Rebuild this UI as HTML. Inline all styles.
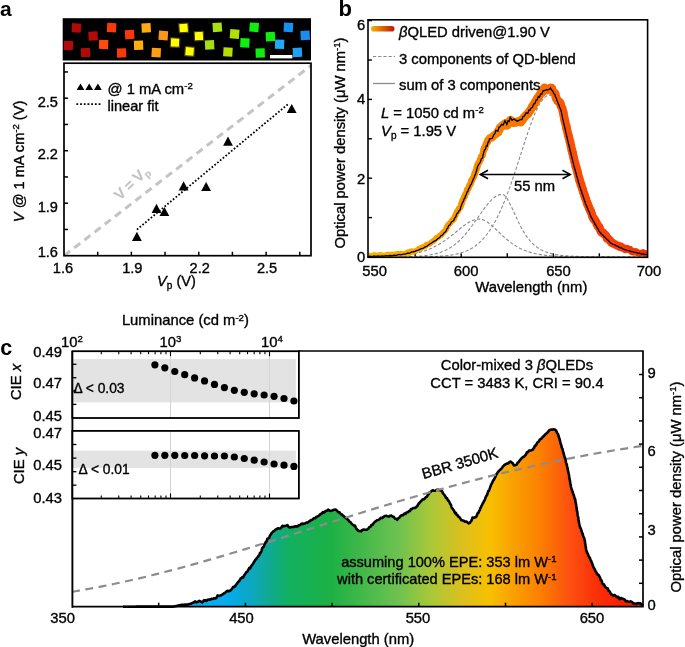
<!DOCTYPE html>
<html><head><meta charset="utf-8"><style>
html,body{margin:0;padding:0;background:#fff;}
svg{display:block;font-family:"Liberation Sans", sans-serif;will-change:transform;}
text{stroke:#000;stroke-width:0.35px;}
</style></head><body>
<svg width="685" height="647" viewBox="0 0 685 647" font-family='"Liberation Sans", sans-serif'>
<rect width="685" height="647" fill="#fff"/>
<text x="0" y="16.4" font-size="21" font-weight="bold" style="stroke:none">a</text>
<rect x="62.7" y="18.2" width="248.3" height="42.3" fill="#000"/>
<rect x="71.8" y="23.3" width="9.2" height="9.2" fill="#b00a0a" transform="rotate(4 76.40 27.90)"/>
<rect x="88.5" y="31.4" width="9.2" height="9.2" fill="#b40a0a" transform="rotate(-3 93.10 36.00)"/>
<rect x="63.8" y="40.9" width="9.2" height="9.2" fill="#b00a0a" transform="rotate(2 68.40 45.50)"/>
<rect x="80.9" y="48" width="9.2" height="9.2" fill="#b00a0a" transform="rotate(-2 85.50 52.60)"/>
<rect x="107" y="23" width="9.2" height="9.2" fill="#f83a08" transform="rotate(3 111.60 27.60)"/>
<rect x="125" y="30" width="9.2" height="9.2" fill="#f8380a" transform="rotate(-4 129.60 34.60)"/>
<rect x="99" y="39.8" width="9.2" height="9.2" fill="#ff4a10" transform="rotate(2 103.60 44.40)"/>
<rect x="117" y="48.3" width="9.2" height="9.2" fill="#f83a0a" transform="rotate(-2 121.60 52.90)"/>
<rect x="141.6" y="23.3" width="9.2" height="9.2" fill="#ffaa10" transform="rotate(-3 146.20 27.90)"/>
<rect x="158.7" y="30.9" width="9.2" height="9.2" fill="#f89818" transform="rotate(4 163.30 35.50)"/>
<rect x="134" y="40.7" width="9.2" height="9.2" fill="#ffb010" transform="rotate(-2 138.60 45.30)"/>
<rect x="151.6" y="48" width="9.2" height="9.2" fill="#ffa010" transform="rotate(3 156.20 52.60)"/>
<rect x="179" y="23.3" width="9.2" height="9.2" fill="#ffff00" stroke="#4a3c00" stroke-width="1.1" transform="rotate(-4 183.60 27.90)"/>
<rect x="170.4" y="38" width="9.2" height="9.2" fill="#ffff00" stroke="#4a3c00" stroke-width="1.1" transform="rotate(3 175.00 42.60)"/>
<rect x="194.3" y="31.5" width="9.2" height="9.2" fill="#ffff00" stroke="#4a3c00" stroke-width="1.1" transform="rotate(-3 198.90 36.10)"/>
<rect x="185" y="46.8" width="9.2" height="9.2" fill="#ffff00" stroke="#4a3c00" stroke-width="1.1" transform="rotate(4 189.60 51.40)"/>
<rect x="212.7" y="22.7" width="9.2" height="9.2" fill="#a8e010" transform="rotate(-4 217.30 27.30)"/>
<rect x="230" y="29.4" width="9.2" height="9.2" fill="#b0e000" transform="rotate(4 234.60 34.00)"/>
<rect x="205" y="40.2" width="9.2" height="9.2" fill="#a0e010" transform="rotate(-3 209.60 44.80)"/>
<rect x="223.3" y="47.4" width="9.2" height="9.2" fill="#b4e000" transform="rotate(3 227.90 52.00)"/>
<rect x="249.5" y="22.7" width="9.2" height="9.2" fill="#10ee10" transform="rotate(4 254.10 27.30)"/>
<rect x="265.8" y="32" width="9.2" height="9.2" fill="#10ee10" transform="rotate(-3 270.40 36.60)"/>
<rect x="240.3" y="38.2" width="9.2" height="9.2" fill="#10ee10" transform="rotate(3 244.90 42.80)"/>
<rect x="255.6" y="48.4" width="9.2" height="9.2" fill="#10ee10" transform="rotate(-2 260.20 53.00)"/>
<rect x="283.8" y="22.7" width="9.2" height="9.2" fill="#1890f0" transform="rotate(3 288.40 27.30)"/>
<rect x="300.6" y="30.8" width="9.2" height="9.2" fill="#1a8cf0" transform="rotate(-3 305.20 35.40)"/>
<rect x="275" y="39.6" width="9.2" height="9.2" fill="#20aaf8" transform="rotate(2 279.60 44.20)"/>
<rect x="292.8" y="47.8" width="9.2" height="9.2" fill="#1ea0f4" transform="rotate(-3 297.40 52.40)"/>
<rect x="270" y="55" width="22.4" height="3.4" fill="#fff"/>
<line x1="64" y1="255.7" x2="311" y2="65.5" stroke="#c4c4c4" stroke-width="3" stroke-dasharray="7.6 5.27"/>
<g transform="translate(135,186.5) rotate(-44)"><text x="0" y="0" font-size="15" word-spacing="-0.75" fill="#c2c2c2" style="stroke:#c2c2c2;stroke-width:0.15px" text-anchor="middle" font-weight="bold">V = V<tspan font-size="10" dy="3">p</tspan></text></g>
<line x1="136.9" y1="229.6" x2="289.3" y2="103.1" stroke="#000" stroke-width="1.8" stroke-dasharray="1.7 1.9"/>
<path d="M132.00,240.90 L141.80,240.90 L136.90,231.80 Z" fill="#000"/>
<path d="M151.60,212.90 L161.40,212.90 L156.50,203.80 Z" fill="#000"/>
<path d="M159.50,216.10 L169.30,216.10 L164.40,207.00 Z" fill="#000"/>
<path d="M178.70,190.40 L188.50,190.40 L183.60,181.30 Z" fill="#000"/>
<path d="M201.20,191.00 L211.00,191.00 L206.10,181.90 Z" fill="#000"/>
<path d="M223.10,145.70 L232.90,145.70 L228.00,136.60 Z" fill="#000"/>
<path d="M286.80,113.00 L296.60,113.00 L291.70,103.90 Z" fill="#000"/>
<rect x="64" y="63.2" width="247" height="192.5" fill="none" stroke="#000" stroke-width="1.7"/>
<line x1="97.68" y1="255.7" x2="97.68" y2="251.7" stroke="#000" stroke-width="1.5"/>
<line x1="64" y1="229.45" x2="68" y2="229.45" stroke="#000" stroke-width="1.5"/>
<line x1="131.36" y1="255.7" x2="131.36" y2="251.7" stroke="#000" stroke-width="1.5"/>
<line x1="64" y1="203.20" x2="68" y2="203.20" stroke="#000" stroke-width="1.5"/>
<line x1="165.05" y1="255.7" x2="165.05" y2="251.7" stroke="#000" stroke-width="1.5"/>
<line x1="64" y1="176.95" x2="68" y2="176.95" stroke="#000" stroke-width="1.5"/>
<line x1="198.73" y1="255.7" x2="198.73" y2="251.7" stroke="#000" stroke-width="1.5"/>
<line x1="64" y1="150.70" x2="68" y2="150.70" stroke="#000" stroke-width="1.5"/>
<line x1="232.41" y1="255.7" x2="232.41" y2="251.7" stroke="#000" stroke-width="1.5"/>
<line x1="64" y1="124.45" x2="68" y2="124.45" stroke="#000" stroke-width="1.5"/>
<line x1="266.09" y1="255.7" x2="266.09" y2="251.7" stroke="#000" stroke-width="1.5"/>
<line x1="64" y1="98.20" x2="68" y2="98.20" stroke="#000" stroke-width="1.5"/>
<line x1="299.77" y1="255.7" x2="299.77" y2="251.7" stroke="#000" stroke-width="1.5"/>
<line x1="64" y1="71.95" x2="68" y2="71.95" stroke="#000" stroke-width="1.5"/>
<text x="58" y="211.9" font-size="14.6" text-anchor="end" >1.9</text>
<text x="58" y="159.39999999999998" font-size="14.6" text-anchor="end" >2.2</text>
<text x="58" y="106.90000000000002" font-size="14.6" text-anchor="end" >2.5</text>
<text x="58" y="256.9" font-size="14.6" text-anchor="end" >1.6</text>
<text x="63.0" y="272.5" font-size="14.6" text-anchor="middle" >1.6</text>
<text x="132.36363636363632" y="272.5" font-size="14.6" text-anchor="middle" >1.9</text>
<text x="199.72727272727272" y="272.5" font-size="14.6" text-anchor="middle" >2.2</text>
<text x="267.09090909090907" y="272.5" font-size="14.6" text-anchor="middle" >2.5</text>
<text x="176.5" y="286.1" font-size="14.6" text-anchor="middle"><tspan font-style="italic">V</tspan><tspan font-size="10" dy="3">p</tspan><tspan dy="-3"> (V)</tspan></text>
<g transform="translate(24,161.4) rotate(-90)"><text x="0" y="0" font-size="14.6" text-anchor="middle"><tspan font-style="italic">V</tspan> @ 1 mA cm<tspan font-size="9.6" dy="-4.8">-2</tspan><tspan dy="4.8"> (V)</tspan></text></g>
<path d="M76.60,90 L84.40,90 L80.50,83.4 Z" fill="#000"/>
<path d="M85.30,90 L93.10,90 L89.20,83.4 Z" fill="#000"/>
<path d="M94.00,90 L101.80,90 L97.90,83.4 Z" fill="#000"/>
<line x1="76.4" y1="104.2" x2="100.4" y2="104.2" stroke="#000" stroke-width="1.8" stroke-dasharray="1.8 1.9"/>
<text x="107.5" y="93.5" font-size="14.8">@ 1 mA cm<tspan font-size="9.6" dy="-4.8">-2</tspan></text>
<text x="107.5" y="110.6" font-size="14.6" text-anchor="start" >linear fit</text>
<text x="338.5" y="16.4" font-size="22" font-weight="bold" style="stroke:none">b</text>
<line x1="415.15" y1="257.3" x2="415.15" y2="253.3" stroke="#000" stroke-width="1.4"/>
<line x1="461.20" y1="257.3" x2="461.20" y2="253.3" stroke="#000" stroke-width="1.4"/>
<line x1="507.25" y1="257.3" x2="507.25" y2="253.3" stroke="#000" stroke-width="1.4"/>
<line x1="553.30" y1="257.3" x2="553.30" y2="253.3" stroke="#000" stroke-width="1.4"/>
<line x1="599.35" y1="257.3" x2="599.35" y2="253.3" stroke="#000" stroke-width="1.4"/>
<path d="M367.26,256.82 L368.18,256.81 L369.1,256.8 L370.02,256.78 L370.94,256.77 L371.86,256.76 L372.78,256.74 L373.71,256.73 L374.63,256.71 L375.55,256.69 L376.47,256.67 L377.39,256.65 L378.31,256.63 L379.23,256.61 L380.15,256.59 L381.07,256.56 L381.99,256.53 L382.92,256.51 L383.84,256.48 L384.76,256.44 L385.68,256.41 L386.6,256.37 L387.52,256.34 L388.44,256.3 L389.36,256.26 L390.28,256.21 L391.2,256.16 L392.12,256.11 L393.05,256.06 L393.97,256.01 L394.89,255.95 L395.81,255.89 L396.73,255.82 L397.65,255.75 L398.57,255.68 L399.49,255.6 L400.41,255.52 L401.34,255.43 L402.26,255.34 L403.18,255.25 L404.1,255.14 L405.02,255.04 L405.94,254.93 L406.86,254.81 L407.78,254.68 L408.7,254.55 L409.62,254.41 L410.55,254.27 L411.47,254.12 L412.39,253.95 L413.31,253.79 L414.23,253.61 L415.15,253.42 L416.07,253.23 L416.99,253.02 L417.91,252.81 L418.83,252.58 L419.75,252.35 L420.68,252.1 L421.6,251.84 L422.52,251.57 L423.44,251.29 L424.36,251 L425.28,250.69 L426.2,250.37 L427.12,250.04 L428.04,249.69 L428.97,249.32 L429.89,248.95 L430.81,248.55 L431.73,248.15 L432.65,247.72 L433.57,247.28 L434.49,246.83 L435.41,246.36 L436.33,245.87 L437.25,245.37 L438.18,244.84 L439.1,244.31 L440.02,243.75 L440.94,243.18 L441.86,242.6 L442.78,242 L443.7,241.38 L444.62,240.75 L445.54,240.1 L446.46,239.44 L447.38,238.76 L448.31,238.07 L449.23,237.37 L450.15,236.66 L451.07,235.94 L451.99,235.21 L452.91,234.47 L453.83,233.73 L454.75,232.98 L455.67,232.23 L456.6,231.47 L457.52,230.72 L458.44,229.97 L459.36,229.22 L460.28,228.48 L461.2,227.75 L462.12,227.03 L463.04,226.33 L463.96,225.64 L464.88,224.97 L465.81,224.32 L466.73,223.7 L467.65,223.1 L468.57,222.54 L469.49,222 L470.41,221.51 L471.33,221.05 L472.25,220.63 L473.17,220.26 L474.09,219.94 L475.02,219.66 L475.94,219.44 L476.86,219.27 L477.78,219.16 L478.7,219.1 L479.62,219.11 L480.54,219.21 L481.46,219.38 L482.38,219.63 L483.3,219.95 L484.23,220.35 L485.15,220.81 L486.07,221.32 L486.99,221.9 L487.91,222.52 L488.83,223.19 L489.75,223.9 L490.67,224.65 L491.59,225.43 L492.51,226.23 L493.44,227.06 L494.36,227.9 L495.28,228.76 L496.2,229.63 L497.12,230.51 L498.04,231.39 L498.96,232.27 L499.88,233.14 L500.8,234.01 L501.72,234.88 L502.65,235.73 L503.57,236.57 L504.49,237.4 L505.41,238.21 L506.33,239 L507.25,239.77 L508.17,240.53 L509.09,241.26 L510.01,241.98 L510.93,242.67 L511.86,243.34 L512.78,243.99 L513.7,244.62 L514.62,245.22 L515.54,245.8 L516.46,246.36 L517.38,246.9 L518.3,247.42 L519.22,247.91 L520.14,248.39 L521.07,248.84 L521.99,249.28 L522.91,249.69 L523.83,250.09 L524.75,250.46 L525.67,250.82 L526.59,251.16 L527.51,251.49 L528.43,251.8 L529.35,252.09 L530.28,252.37 L531.2,252.63 L532.12,252.88 L533.04,253.12 L533.96,253.35 L534.88,253.56 L535.8,253.76 L536.72,253.95 L537.64,254.13 L538.56,254.3 L539.49,254.46 L540.41,254.61 L541.33,254.75 L542.25,254.89 L543.17,255.02 L544.09,255.13 L545.01,255.25 L545.93,255.35 L546.85,255.45 L547.77,255.55 L548.7,255.64 L549.62,255.72 L550.54,255.8 L551.46,255.87 L552.38,255.94 L553.3,256.01 L554.22,256.07 L555.14,256.13 L556.06,256.18 L556.98,256.23 L557.9,256.28 L558.83,256.32 L559.75,256.36 L560.67,256.4 L561.59,256.44 L562.51,256.48 L563.43,256.51 L564.35,256.54 L565.27,256.57 L566.19,256.59 L567.12,256.62 L568.04,256.64 L568.96,256.67 L569.88,256.69 L570.8,256.71 L571.72,256.72 L572.64,256.74 L573.56,256.76 L574.48,256.77 L575.4,256.79 L576.33,256.8 L577.25,256.81 L578.17,256.82 L579.09,256.83 L580.01,256.84 L580.93,256.85 L581.85,256.86 L582.77,256.87 L583.69,256.88 L584.61,256.89 L585.54,256.89 L586.46,256.9 L587.38,256.91 L588.3,256.91 L589.22,256.92 L590.14,256.92 L591.06,256.93 L591.98,256.93 L592.9,256.94 L593.82,256.94 L594.75,256.94 L595.67,256.95 L596.59,256.95 L597.51,256.95 L598.43,256.96 L599.35,256.96 L600.27,256.96 L601.19,256.96 L602.11,256.97 L603.03,256.97 L603.96,256.97 L604.88,256.97 L605.8,256.97 L606.72,256.97 L607.64,256.98 L608.56,256.98 L609.48,256.98 L610.4,256.98 L611.32,256.98 L612.24,256.98 L613.16,256.98 L614.09,256.98 L615.01,256.99 L615.93,256.99 L616.85,256.99 L617.77,256.99 L618.69,256.99 L619.61,256.99 L620.53,256.99 L621.45,256.99 L622.38,256.99 L623.3,256.99 L624.22,256.99 L625.14,256.99 L626.06,256.99 L626.98,256.99 L627.9,256.99 L628.82,256.99 L629.74,256.99 L630.66,256.99 L631.59,256.99 L632.51,257 L633.43,257 L634.35,257 L635.27,257 L636.19,257 L637.11,257 L638.03,257 L638.95,257 L639.87,257 L640.8,257 L641.72,257 L642.64,257 L643.56,257 L644.48,257 L645.4,257 L646.32,257 L647.24,257" fill="none" stroke="#8a8a8a" stroke-width="1.1" stroke-dasharray="3.2 2"/>
<path d="M367.26,257 L368.18,257 L369.1,257 L370.02,256.99 L370.94,256.99 L371.86,256.99 L372.78,256.99 L373.71,256.99 L374.63,256.99 L375.55,256.99 L376.47,256.99 L377.39,256.99 L378.31,256.99 L379.23,256.98 L380.15,256.98 L381.07,256.98 L381.99,256.98 L382.92,256.98 L383.84,256.98 L384.76,256.97 L385.68,256.97 L386.6,256.97 L387.52,256.96 L388.44,256.96 L389.36,256.96 L390.28,256.95 L391.2,256.95 L392.12,256.94 L393.05,256.94 L393.97,256.93 L394.89,256.92 L395.81,256.91 L396.73,256.91 L397.65,256.9 L398.57,256.89 L399.49,256.88 L400.41,256.86 L401.34,256.85 L402.26,256.84 L403.18,256.82 L404.1,256.8 L405.02,256.79 L405.94,256.77 L406.86,256.74 L407.78,256.72 L408.7,256.7 L409.62,256.67 L410.55,256.64 L411.47,256.6 L412.39,256.57 L413.31,256.53 L414.23,256.49 L415.15,256.44 L416.07,256.39 L416.99,256.34 L417.91,256.28 L418.83,256.22 L419.75,256.15 L420.68,256.08 L421.6,256 L422.52,255.92 L423.44,255.83 L424.36,255.73 L425.28,255.63 L426.2,255.52 L427.12,255.39 L428.04,255.26 L428.97,255.13 L429.89,254.98 L430.81,254.82 L431.73,254.65 L432.65,254.47 L433.57,254.27 L434.49,254.06 L435.41,253.84 L436.33,253.6 L437.25,253.35 L438.18,253.09 L439.1,252.8 L440.02,252.5 L440.94,252.18 L441.86,251.84 L442.78,251.48 L443.7,251.1 L444.62,250.69 L445.54,250.27 L446.46,249.82 L447.38,249.34 L448.31,248.85 L449.23,248.32 L450.15,247.77 L451.07,247.19 L451.99,246.58 L452.91,245.94 L453.83,245.28 L454.75,244.58 L455.67,243.86 L456.6,243.1 L457.52,242.31 L458.44,241.49 L459.36,240.63 L460.28,239.75 L461.2,238.83 L462.12,237.88 L463.04,236.9 L463.96,235.89 L464.88,234.84 L465.81,233.77 L466.73,232.67 L467.65,231.54 L468.57,230.38 L469.49,229.2 L470.41,227.99 L471.33,226.77 L472.25,225.52 L473.17,224.25 L474.09,222.97 L475.02,221.67 L475.94,220.36 L476.86,219.04 L477.78,217.72 L478.7,216.4 L479.62,215.08 L480.54,213.77 L481.46,212.46 L482.38,211.17 L483.3,209.89 L484.23,208.63 L485.15,207.4 L486.07,206.2 L486.99,205.04 L487.91,203.91 L488.83,202.82 L489.75,201.78 L490.67,200.79 L491.59,199.86 L492.51,198.99 L493.44,198.18 L494.36,197.44 L495.28,196.77 L496.2,196.18 L497.12,195.66 L498.04,195.23 L498.96,194.88 L499.88,194.62 L500.8,194.44 L501.72,194.36 L502.65,194.41 L503.57,194.77 L504.49,195.42 L505.41,196.34 L506.33,197.5 L507.25,198.86 L508.17,200.39 L509.09,202.08 L510.01,203.88 L510.93,205.77 L511.86,207.73 L512.78,209.73 L513.7,211.76 L514.62,213.8 L515.54,215.83 L516.46,217.83 L517.38,219.81 L518.3,221.74 L519.22,223.62 L520.14,225.45 L521.07,227.21 L521.99,228.9 L522.91,230.53 L523.83,232.09 L524.75,233.58 L525.67,235 L526.59,236.35 L527.51,237.62 L528.43,238.83 L529.35,239.98 L530.28,241.06 L531.2,242.08 L532.12,243.03 L533.04,243.94 L533.96,244.78 L534.88,245.58 L535.8,246.32 L536.72,247.02 L537.64,247.68 L538.56,248.29 L539.49,248.86 L540.41,249.4 L541.33,249.9 L542.25,250.36 L543.17,250.8 L544.09,251.21 L545.01,251.59 L545.93,251.94 L546.85,252.27 L547.77,252.58 L548.7,252.87 L549.62,253.14 L550.54,253.39 L551.46,253.62 L552.38,253.84 L553.3,254.05 L554.22,254.24 L555.14,254.41 L556.06,254.58 L556.98,254.73 L557.9,254.87 L558.83,255.01 L559.75,255.13 L560.67,255.25 L561.59,255.36 L562.51,255.46 L563.43,255.56 L564.35,255.64 L565.27,255.73 L566.19,255.8 L567.12,255.88 L568.04,255.94 L568.96,256.01 L569.88,256.07 L570.8,256.12 L571.72,256.17 L572.64,256.22 L573.56,256.27 L574.48,256.31 L575.4,256.35 L576.33,256.39 L577.25,256.42 L578.17,256.45 L579.09,256.49 L580.01,256.51 L580.93,256.54 L581.85,256.57 L582.77,256.59 L583.69,256.61 L584.61,256.63 L585.54,256.65 L586.46,256.67 L587.38,256.69 L588.3,256.71 L589.22,256.72 L590.14,256.74 L591.06,256.75 L591.98,256.76 L592.9,256.78 L593.82,256.79 L594.75,256.8 L595.67,256.81 L596.59,256.82 L597.51,256.83 L598.43,256.84 L599.35,256.84 L600.27,256.85 L601.19,256.86 L602.11,256.87 L603.03,256.87 L603.96,256.88 L604.88,256.88 L605.8,256.89 L606.72,256.89 L607.64,256.9 L608.56,256.9 L609.48,256.91 L610.4,256.91 L611.32,256.92 L612.24,256.92 L613.16,256.92 L614.09,256.93 L615.01,256.93 L615.93,256.93 L616.85,256.94 L617.77,256.94 L618.69,256.94 L619.61,256.94 L620.53,256.95 L621.45,256.95 L622.38,256.95 L623.3,256.95 L624.22,256.96 L625.14,256.96 L626.06,256.96 L626.98,256.96 L627.9,256.96 L628.82,256.96 L629.74,256.97 L630.66,256.97 L631.59,256.97 L632.51,256.97 L633.43,256.97 L634.35,256.97 L635.27,256.97 L636.19,256.97 L637.11,256.97 L638.03,256.98 L638.95,256.98 L639.87,256.98 L640.8,256.98 L641.72,256.98 L642.64,256.98 L643.56,256.98 L644.48,256.98 L645.4,256.98 L646.32,256.98 L647.24,256.98" fill="none" stroke="#8a8a8a" stroke-width="1.1" stroke-dasharray="3.2 2"/>
<path d="M367.26,257 L368.18,257 L369.1,257 L370.02,257 L370.94,257 L371.86,257 L372.78,257 L373.71,257 L374.63,257 L375.55,257 L376.47,257 L377.39,257 L378.31,257 L379.23,257 L380.15,257 L381.07,257 L381.99,257 L382.92,257 L383.84,257 L384.76,257 L385.68,257 L386.6,257 L387.52,256.99 L388.44,256.99 L389.36,256.99 L390.28,256.99 L391.2,256.99 L392.12,256.99 L393.05,256.99 L393.97,256.99 L394.89,256.99 L395.81,256.99 L396.73,256.99 L397.65,256.99 L398.57,256.98 L399.49,256.98 L400.41,256.98 L401.34,256.98 L402.26,256.98 L403.18,256.97 L404.1,256.97 L405.02,256.97 L405.94,256.97 L406.86,256.96 L407.78,256.96 L408.7,256.96 L409.62,256.95 L410.55,256.95 L411.47,256.94 L412.39,256.94 L413.31,256.93 L414.23,256.93 L415.15,256.92 L416.07,256.91 L416.99,256.9 L417.91,256.9 L418.83,256.89 L419.75,256.88 L420.68,256.86 L421.6,256.85 L422.52,256.84 L423.44,256.82 L424.36,256.81 L425.28,256.79 L426.2,256.77 L427.12,256.75 L428.04,256.73 L428.97,256.71 L429.89,256.68 L430.81,256.66 L431.73,256.63 L432.65,256.6 L433.57,256.56 L434.49,256.53 L435.41,256.49 L436.33,256.44 L437.25,256.4 L438.18,256.35 L439.1,256.29 L440.02,256.24 L440.94,256.17 L441.86,256.11 L442.78,256.04 L443.7,255.96 L444.62,255.88 L445.54,255.79 L446.46,255.69 L447.38,255.59 L448.31,255.48 L449.23,255.36 L450.15,255.24 L451.07,255.1 L451.99,254.96 L452.91,254.81 L453.83,254.64 L454.75,254.47 L455.67,254.28 L456.6,254.08 L457.52,253.87 L458.44,253.64 L459.36,253.4 L460.28,253.14 L461.2,252.87 L462.12,252.58 L463.04,252.27 L463.96,251.94 L464.88,251.6 L465.81,251.23 L466.73,250.84 L467.65,250.42 L468.57,249.99 L469.49,249.52 L470.41,249.03 L471.33,248.52 L472.25,247.97 L473.17,247.39 L474.09,246.79 L475.02,246.15 L475.94,245.47 L476.86,244.76 L477.78,244.02 L478.7,243.23 L479.62,242.41 L480.54,241.55 L481.46,240.64 L482.38,239.69 L483.3,238.7 L484.23,237.66 L485.15,236.57 L486.07,235.44 L486.99,234.26 L487.91,233.02 L488.83,231.73 L489.75,230.4 L490.67,229 L491.59,227.55 L492.51,226.05 L493.44,224.49 L494.36,222.87 L495.28,221.2 L496.2,219.46 L497.12,217.67 L498.04,215.82 L498.96,213.91 L499.88,211.94 L500.8,209.91 L501.72,207.83 L502.65,205.69 L503.57,203.48 L504.49,201.23 L505.41,198.92 L506.33,196.55 L507.25,194.13 L508.17,191.66 L509.09,189.14 L510.01,186.58 L510.93,183.97 L511.86,181.32 L512.78,178.63 L513.7,175.91 L514.62,173.15 L515.54,170.37 L516.46,167.56 L517.38,164.73 L518.3,161.88 L519.22,159.02 L520.14,156.15 L521.07,153.28 L521.99,150.42 L522.91,147.56 L523.83,144.72 L524.75,141.89 L525.67,139.09 L526.59,136.32 L527.51,133.59 L528.43,130.9 L529.35,128.26 L530.28,125.68 L531.2,123.16 L532.12,120.71 L533.04,118.33 L533.96,116.03 L534.88,113.83 L535.8,111.72 L536.72,109.71 L537.64,107.8 L538.56,106.01 L539.49,104.33 L540.41,102.78 L541.33,101.36 L542.25,100.07 L543.17,98.92 L544.09,97.92 L545.01,97.06 L545.93,96.35 L546.85,95.79 L547.77,95.39 L548.7,95.15 L549.62,95.07 L550.54,95.23 L551.46,95.72 L552.38,96.52 L553.3,97.61 L554.22,98.98 L555.14,100.62 L556.06,102.5 L556.98,104.6 L557.9,106.92 L558.83,109.43 L559.75,112.12 L560.67,114.95 L561.59,117.93 L562.51,121.03 L563.43,124.24 L564.35,127.53 L565.27,130.89 L566.19,134.31 L567.12,137.78 L568.04,141.27 L568.96,144.78 L569.88,148.3 L570.8,151.81 L571.72,155.31 L572.64,158.78 L573.56,162.22 L574.48,165.62 L575.4,168.97 L576.33,172.27 L577.25,175.5 L578.17,178.68 L579.09,181.78 L580.01,184.82 L580.93,187.77 L581.85,190.65 L582.77,193.45 L583.69,196.17 L584.61,198.81 L585.54,201.37 L586.46,203.84 L587.38,206.23 L588.3,208.53 L589.22,210.76 L590.14,212.9 L591.06,214.96 L591.98,216.95 L592.9,218.85 L593.82,220.68 L594.75,222.44 L595.67,224.12 L596.59,225.73 L597.51,227.28 L598.43,228.75 L599.35,230.17 L600.27,231.52 L601.19,232.8 L602.11,234.03 L603.03,235.21 L603.96,236.32 L604.88,237.39 L605.8,238.4 L606.72,239.37 L607.64,240.29 L608.56,241.16 L609.48,242 L610.4,242.79 L611.32,243.54 L612.24,244.25 L613.16,244.93 L614.09,245.57 L615.01,246.18 L615.93,246.76 L616.85,247.31 L617.77,247.83 L618.69,248.32 L619.61,248.79 L620.53,249.24 L621.45,249.66 L622.38,250.05 L623.3,250.43 L624.22,250.79 L625.14,251.12 L626.06,251.44 L626.98,251.75 L627.9,252.03 L628.82,252.3 L629.74,252.56 L630.66,252.8 L631.59,253.03 L632.51,253.25 L633.43,253.45 L634.35,253.64 L635.27,253.83 L636.19,254 L637.11,254.16 L638.03,254.32 L638.95,254.47 L639.87,254.6 L640.8,254.73 L641.72,254.86 L642.64,254.97 L643.56,255.08 L644.48,255.19 L645.4,255.29 L646.32,255.38 L647.24,255.47" fill="none" stroke="#8a8a8a" stroke-width="1.1" stroke-dasharray="3.2 2"/>
<defs><linearGradient id="gb" gradientUnits="userSpaceOnUse" x1="368" y1="0" x2="647" y2="0"><stop offset="0" stop-color="#f8b400"/><stop offset="0.3" stop-color="#f89a00"/><stop offset="0.45" stop-color="#f88000"/><stop offset="0.62" stop-color="#f86c00"/><stop offset="0.72" stop-color="#f85008"/><stop offset="0.85" stop-color="#f84008"/><stop offset="1" stop-color="#f03008"/></linearGradient><linearGradient id="gl" x1="0" y1="0" x2="1" y2="0"><stop offset="0" stop-color="#f7b500"/><stop offset="1" stop-color="#c01408"/></linearGradient></defs>
<clipPath id="cb"><rect x="368.8" y="19.8" width="278.2" height="236.9"/></clipPath>
<g clip-path="url(#cb)" fill="none" stroke="url(#gb)" stroke-linejoin="round" stroke-linecap="round"><path d="M368,255.21 L369.5,255.64 L371,256.19 L372.5,255.79 L374,254.93 L375.5,255.48" stroke-width="5.60"/><path d="M375.5,255.48 L377,256.19 L378.5,254.98 L380,254.84 L381.67,254.99 L383.33,255.67" stroke-width="5.60"/><path d="M383.33,255.67 L385,255.87 L386.67,254.58 L388.33,254.53 L390,254.65 L392.2,254.54" stroke-width="5.60"/><path d="M392.2,254.54 L394.4,254.64 L396.6,253.79 L398.8,253.89 L400.95,253.39 L403.1,254.56" stroke-width="5.60"/><path d="M403.1,254.56 L405.3,253.71 L407.5,252.18 L408.97,253.3 L410.43,251.32 L411.9,251.39" stroke-width="5.60"/><path d="M411.9,251.39 L413.37,252 L414.83,251.2 L416.3,250.62 L417.77,249.52 L419.23,248.52" stroke-width="5.60"/><path d="M419.23,248.52 L420.7,248.75 L422.13,247.19 L423.57,246.77 L425,246.5 L426.47,244.76" stroke-width="5.60"/><path d="M426.47,244.76 L427.93,244.32 L429.4,243.93 L430.87,242.76 L432.33,241.41 L433.8,240.65" stroke-width="5.60"/><path d="M433.8,240.65 L435.27,239.25 L436.73,237.57 L438.2,237.31 L439.36,235.81 L440.52,235.31" stroke-width="5.77"/><path d="M440.52,235.31 L441.68,234.53 L442.84,232.6 L444,231.78 L445.9,229.77 L446.8,227.47" stroke-width="5.91"/><path d="M446.8,227.47 L447.7,225.41 L448.6,224.58 L450,223.2 L451.4,221.34 L452.55,220.04" stroke-width="6.05"/><path d="M452.55,220.04 L453.7,219.15 L454.65,216.97 L455.6,215.04 L456.37,213.29 L457.13,211.63" stroke-width="6.18"/><path d="M457.13,211.63 L457.9,210.79 L459.05,208.42 L460.2,207.58 L460.75,206.18 L461.3,203.99" stroke-width="6.28"/><path d="M461.3,203.99 L462,202.3 L462.7,200.07 L463.4,198.84 L464.02,197.46 L464.63,196.32" stroke-width="6.36"/><path d="M464.63,196.32 L465.25,194.49 L465.87,193.53 L466.48,192.55 L467.1,189.76 L467.8,189.18" stroke-width="6.44"/><path d="M467.8,189.18 L468.5,187.98 L469.2,185.86 L469.9,184.62 L470.6,184.07 L471.3,180.96" stroke-width="6.51"/><path d="M471.3,180.96 L472,180.44 L472.62,178.29 L473.23,177.95 L473.85,176.78 L474.47,174.56" stroke-width="6.59"/><path d="M474.47,174.56 L475.08,172.35 L475.7,171.75 L476.16,170.02 L476.62,168.67 L477.08,166.64" stroke-width="6.66"/><path d="M477.08,166.64 L477.54,165.2 L478,163.87 L479.4,161.9 L480.03,160.03 L480.67,159.32" stroke-width="6.73"/><path d="M480.67,159.32 L481.3,156.31 L482.7,155.25 L483.05,152.77 L483.4,151.48 L484.07,148.75" stroke-width="6.66"/><path d="M484.07,148.75 L484.73,148.74 L485.4,146.04 L486.05,144.13 L486.7,143.14 L487.35,141.99" stroke-width="7.01"/><path d="M487.35,141.99 L488,139.92 L488.75,139.33 L489.5,138.01 L490.8,138.26 L492.1,137.38" stroke-width="7.42"/><path d="M492.1,137.38 L493.05,136.2 L494,135.1 L494.9,134.83 L495.8,133.99 L498,132.25" stroke-width="8.00"/><path d="M498,132.25 L498.67,130.29 L499.33,129.94 L500,127.81 L501.6,126.43 L503.2,125.23" stroke-width="8.60"/><path d="M503.2,125.23 L504.1,124.95 L505,123.56 L505.9,124.54 L506.8,125.54 L507.68,124.39" stroke-width="8.60"/><path d="M507.68,124.39 L508.55,122.46 L509.43,122.46 L510.3,120.04 L512.05,121.45 L513.8,122.67" stroke-width="8.60"/><path d="M513.8,122.67 L515.55,122.47 L517.3,121.64 L519.05,121.53 L520.8,122.19 L521.67,120.1" stroke-width="8.60"/><path d="M521.67,120.1 L522.55,120.05 L523.42,117.86 L524.3,117.43 L526.05,115.08 L527.8,113.98" stroke-width="8.60"/><path d="M527.8,113.98 L528.97,112.06 L530.13,110.64 L531.3,108.46 L532.17,106.63 L533.05,106.42" stroke-width="8.60"/><path d="M533.05,106.42 L533.92,104.12 L534.8,102.55 L535.67,101.13 L536.55,99.92 L537.42,98.3" stroke-width="8.60"/><path d="M537.42,98.3 L538.3,97.14 L539.47,95.44 L540.63,93.32 L541.8,92.87 L543.1,90.99" stroke-width="8.60"/><path d="M543.1,90.99 L544.4,87.8 L547,90.09 L548.75,89.13 L550.5,87.81 L551.6,88.2" stroke-width="8.60"/><path d="M551.6,88.2 L552.7,91 L553.8,92.39 L554.9,93.03 L555.44,94.42 L555.98,97.51" stroke-width="8.60"/><path d="M555.98,97.51 L556.52,99.08 L557.06,99.75 L557.6,100.88 L559.88,102.42 L560.47,104.05" stroke-width="8.60"/><path d="M560.47,104.05 L561.05,106.5 L561.63,107.19 L562.22,108.31 L562.8,111.13 L563.12,112.48" stroke-width="8.60"/><path d="M563.12,112.48 L563.43,112.9 L563.75,115.75 L564.07,116.8 L564.38,118.66 L564.7,120" stroke-width="8.60"/><path d="M564.7,120 L565.06,121.95 L565.41,123.3 L565.77,124.94 L566.13,125.33 L566.49,127.76" stroke-width="8.60"/><path d="M566.49,127.76 L566.84,129.01 L567.2,130.94 L567.56,131.93 L567.91,134.27 L568.27,135.23" stroke-width="8.60"/><path d="M568.27,135.23 L568.63,136.25 L568.99,137.74 L569.34,139.11 L569.7,141.29 L570.08,142.06" stroke-width="8.60"/><path d="M570.08,142.06 L570.46,144.34 L570.84,145.31 L571.21,147.48 L571.59,149.05 L571.97,150.67" stroke-width="8.60"/><path d="M571.97,150.67 L572.35,152.8 L572.73,152.81 L573.11,155.86 L573.49,156.74 L573.86,158.46" stroke-width="8.60"/><path d="M573.86,158.46 L574.24,160.2 L574.62,162.06 L575,162.77 L575.41,164.35 L575.82,166.81" stroke-width="8.60"/><path d="M575.82,166.81 L576.22,166.71 L576.63,169.22 L577.04,170.71 L577.45,171.11 L577.85,173.64" stroke-width="8.60"/><path d="M577.85,173.64 L578.26,175.27 L578.67,177.21 L579.08,177.62 L579.48,180.28 L579.89,180.93" stroke-width="8.60"/><path d="M579.89,180.93 L580.3,182.37 L580.79,184.62 L581.28,184.56 L581.78,187.29 L582.27,188.63" stroke-width="8.60"/><path d="M582.27,188.63 L582.76,189.61 L583.25,192.05 L583.75,192.66 L584.24,194.35 L584.73,195.95" stroke-width="8.60"/><path d="M584.73,195.95 L585.22,197.89 L585.72,198.38 L586.21,200.28 L586.7,201.76 L587.33,203.52" stroke-width="8.60"/><path d="M587.33,203.52 L587.96,205.53 L588.59,206.09 L589.22,208.57 L589.85,209.33 L590.48,211.03" stroke-width="8.60"/><path d="M590.48,211.03 L591.11,212.13 L591.74,214.07 L592.37,216.43 L593,217.38 L593.79,219" stroke-width="8.60"/><path d="M593.79,219 L594.58,219.54 L595.37,220.89 L596.16,222.23 L596.95,224.12 L597.75,225.58" stroke-width="8.60"/><path d="M597.75,225.58 L598.54,227.22 L599.33,227.25 L600.12,229.86 L600.91,231.52 L601.7,232.28" stroke-width="8.60"/><path d="M601.7,232.28 L602.8,232.47 L603.9,234 L605,234.55 L606.1,235.96 L607.2,238.36" stroke-width="8.60"/><path d="M607.2,238.36 L608.3,238.88 L609.4,240.04 L610.5,241.36 L611.6,242.66 L612.7,243.2" stroke-width="8.60"/><path d="M612.7,243.2 L614.09,243.86 L615.48,244.53 L616.87,245.3 L618.26,245.77 L619.65,246.58" stroke-width="8.23"/><path d="M619.65,246.58 L621.04,246.38 L622.43,247.85 L623.82,248.12 L625.21,249.32 L626.6,248.78" stroke-width="7.81"/><path d="M626.6,248.78 L628.23,249.34 L629.85,249.49 L631.48,251.23 L633.1,251.9 L634.73,251.84" stroke-width="7.36"/><path d="M634.73,251.84 L636.35,251.74 L637.98,252.97 L639.6,253.32 L641.12,253.16 L642.63,252.86" stroke-width="6.88"/><path d="M642.63,252.86 L644.15,253.19 L645.67,253.66 L647.18,253.72 L648.7,254.18" stroke-width="6.80"/></g>
<path d="M368,256.62 L370,256.23 L372,256.57 L374,255.91 L376,256.36 L378,255.83 L380,256.27 L382,255.82 L384,256.17 L386,255.65 L388,255.88 L390,255.53 L392.2,255.73 L394.4,255.04 L396.6,255.29 L398.8,254.46 L400.95,254.78 L403.1,254.1 L405.3,254.12 L407.5,253.23 L409.7,253.14 L411.9,251.94 L414.1,251.76 L416.3,250.68 L418.5,250.09 L420.7,248.93 L422.85,248.49 L425,247.12 L427.2,246.04 L429.4,244.19 L431.6,243.07 L433.8,241.43 L436,240.37 L438.2,238.33 L439.65,237.55 L441.1,235.65 L442.55,235.02 L444,232.92 L445.9,231.38 L446.8,229.07 L447.7,228.16 L448.6,225.64 L450,224.84 L451.4,222.03 L453.7,220.49 L454.65,218.08 L455.6,217.12 L456.75,213.91 L457.9,212.77 L459.05,210.71 L460.2,209.87 L460.75,206.97 L461.3,205.77 L462.35,202.78 L463.4,201.14 L464.14,198.78 L464.88,198.04 L465.62,195.5 L466.36,194.54 L467.1,191.91 L467.92,191.2 L468.73,188.52 L469.55,187.63 L470.37,185.14 L471.18,184.43 L472,182.21 L472.74,180.84 L473.48,178.53 L474.22,177.55 L474.96,175.13 L475.7,173.94 L476.27,171.3 L476.85,169.86 L477.43,166.94 L478,165.58 L479.4,163.5 L480.35,162.03 L481.3,158.77 L482.7,157.67 L483.05,154.67 L483.4,153.76 L484.4,150.2 L485.4,149.23 L486.27,145.92 L487.13,146.13 L488,142.07 L488.75,142.02 L489.5,138.82 L492.1,138.44 L494,134.37 L494.9,133.63 L495.8,130.35 L498,131.05 L499,127.06 L500,126.82 L501.6,124.52 L503.2,124.95 L505,120.64 L506.8,124.53 L507.97,120.77 L509.13,121.46 L510.3,117.37 L512.05,120.36 L513.8,119.08 L517.3,121.15 L520.8,119.41 L521.97,119.58 L523.13,116.33 L524.3,116.06 L526.05,112.9 L527.8,113.47 L528.97,109.96 L530.13,110.12 L531.3,107.57 L532.47,107.5 L533.63,104.03 L534.8,103.62 L535.97,100.33 L537.13,99.93 L538.3,96.44 L539.47,97.31 L540.63,93.94 L541.8,94.09 L543.1,90.69 L544.4,90.5 L547,89.75 L548.75,89.65 L550.5,88.05 L551.6,90.12 L552.7,90.84 L553.8,93.54 L554.9,94.63 L555.58,97.21 L556.25,97.8 L556.92,100.52 L557.6,101.66 L558.3,103.92 L559,105.2 L559.7,107.5 L560.4,108.72 L561.1,110.98 L561.48,112.27 L561.86,114.84 L562.24,115.73 L562.62,118.63 L563,119.65 L563.42,122.15 L563.83,123.2 L564.25,125.74 L564.67,126.88 L565.08,129.21 L565.5,130.5 L565.92,133.19 L566.33,134.17 L566.75,136.59 L567.17,137.56 L567.58,140.34 L568,141.33 L568.44,143.7 L568.88,144.93 L569.33,147.37 L569.77,148.47 L570.21,151.22 L570.65,151.91 L571.09,154.8 L571.53,155.88 L571.97,158.07 L572.42,159.21 L572.86,162.05 L573.3,162.92 L573.78,165.49 L574.26,166.65 L574.75,168.94 L575.23,169.79 L575.71,172.64 L576.19,173.34 L576.67,176.23 L577.15,177.12 L577.64,179.4 L578.12,180.69 L578.6,183.1 L579.18,184.01 L579.76,186.82 L580.35,187.54 L580.93,190.24 L581.51,191.06 L582.09,193.71 L582.67,194.7 L583.25,197.08 L583.84,198.15 L584.42,200.7 L585,201.63 L585.7,204.34 L586.4,205.27 L587.1,207.5 L587.8,208.67 L588.5,211.09 L589.2,211.86 L589.9,214.25 L590.6,215.5 L591.3,217.8 L592.27,218.65 L593.23,221.1 L594.2,222.16 L595.17,224.54 L596.13,225.6 L597.1,227.77 L598.07,228.77 L599.03,231.4 L600,232.24 L601.38,234.17 L602.75,234.98 L604.12,236.71 L605.5,237.73 L606.88,239.59 L608.25,240.32 L609.62,242.13 L611,243.19 L612.74,244.34 L614.48,244.65 L616.21,245.95 L617.95,246.38 L619.69,247.63 L621.42,247.84 L623.16,249.15 L624.9,249.69 L626.76,250.46 L628.61,250.53 L630.47,251.49 L632.33,251.53 L634.19,252.46 L636.04,252.34 L637.9,253.33 L639.72,253.24 L641.54,254.04 L643.36,253.82 L645.18,254.61 L647,254.44" fill="none" stroke="#000" stroke-width="1.3" stroke-linejoin="miter" stroke-miterlimit="3"/>
<rect x="368" y="19.8" width="279.6" height="237.5" fill="none" stroke="#000" stroke-width="1.6"/>
<line x1="368" y1="217.60" x2="372" y2="217.60" stroke="#000" stroke-width="1.4"/>
<line x1="368" y1="178.20" x2="372" y2="178.20" stroke="#000" stroke-width="1.4"/>
<line x1="368" y1="138.80" x2="372" y2="138.80" stroke="#000" stroke-width="1.4"/>
<line x1="368" y1="99.40" x2="372" y2="99.40" stroke="#000" stroke-width="1.4"/>
<line x1="368" y1="60.00" x2="372" y2="60.00" stroke="#000" stroke-width="1.4"/>
<line x1="368" y1="20.60" x2="372" y2="20.60" stroke="#000" stroke-width="1.4"/>
<text x="365.2" y="261.7" font-size="14.8" text-anchor="end" >0</text>
<text x="365.2" y="184.2" font-size="14.8" text-anchor="end" >2</text>
<text x="365.2" y="104.10000000000001" font-size="14.8" text-anchor="end" >4</text>
<text x="365.2" y="29.8" font-size="14.8" text-anchor="end" >6</text>
<text x="374.7" y="275.7" font-size="14.8" text-anchor="middle" >550</text>
<text x="466.1" y="275.7" font-size="14.8" text-anchor="middle" >600</text>
<text x="558.5" y="275.7" font-size="14.8" text-anchor="middle" >650</text>
<text x="649" y="275.7" font-size="14.8" text-anchor="middle" >700</text>
<text x="531.3" y="291.9" font-size="14.8" text-anchor="middle" >Wavelength (nm)</text>
<g transform="translate(345,143) rotate(-90)"><text x="0" y="0" font-size="14.8" text-anchor="middle">Optical power density (μW nm<tspan font-size="9.6" dy="-4.8">-1</tspan><tspan dy="4.8">)</tspan></text></g>
<rect x="371" y="26" width="23.5" height="5.6" rx="2.8" fill="url(#gl)"/>
<text x="399" y="37.1" font-size="14.8"><tspan font-style="italic">β</tspan>QLED driven@1.90 V</text>
<line x1="373" y1="56.5" x2="395" y2="56.5" stroke="#8a8a8a" stroke-width="1.1" stroke-dasharray="3.2 2"/>
<text x="399" y="63.6" font-size="14.8" text-anchor="start" >3 components of QD-blend</text>
<line x1="373" y1="83.5" x2="395" y2="83.5" stroke="#8a8a8a" stroke-width="1.3"/>
<text x="399" y="90" font-size="14.8" text-anchor="start" >sum of 3 components</text>
<text x="381" y="117.9" font-size="14.8"><tspan font-style="italic">L</tspan> = 1050 cd m<tspan font-size="9.6" dy="-4.8">-2</tspan></text>
<text x="381" y="135.5" font-size="14.8"><tspan font-style="italic">V</tspan><tspan font-size="10" dy="3">p</tspan><tspan dy="-3"> = 1.95 V</tspan></text>
<line x1="480.5" y1="174.5" x2="570" y2="174.5" stroke="#000" stroke-width="1.5"/>
<path d="M488,170.3 L480.3,174.5 L488,178.7 M562.5,170.3 L570.2,174.5 L562.5,178.7" fill="none" stroke="#000" stroke-width="1.6"/>
<text x="514" y="191.4" font-size="14.8" text-anchor="start" >55 nm</text>
<text x="0.2" y="355.4" font-size="21.5" font-weight="bold" style="stroke:none">c</text>
<defs><linearGradient id="gs" gradientUnits="userSpaceOnUse" x1="225" y1="0" x2="640" y2="0"><stop offset="0.0000" stop-color="#06acee"/><stop offset="0.0313" stop-color="#08a8da"/><stop offset="0.0723" stop-color="#0ea8b8"/><stop offset="0.1133" stop-color="#10aa8a"/><stop offset="0.1566" stop-color="#12b060"/><stop offset="0.2530" stop-color="#1cb045"/><stop offset="0.4217" stop-color="#70c250"/><stop offset="0.4940" stop-color="#a8c838"/><stop offset="0.5663" stop-color="#d8c020"/><stop offset="0.6386" stop-color="#f8c000"/><stop offset="0.6867" stop-color="#f8a400"/><stop offset="0.7590" stop-color="#fc8000"/><stop offset="0.8313" stop-color="#fc5010"/><stop offset="0.9036" stop-color="#fa2c06"/><stop offset="1.0000" stop-color="#f41608"/></linearGradient></defs>
<path d="M123,606.7 L124.33,606.7 L125.66,606.69 L126.99,606.69 L128.33,606.69 L129.66,606.69 L130.99,606.68 L132.32,606.68 L133.65,606.68 L134.98,606.68 L136.32,606.67 L137.65,606.67 L138.98,606.67 L140.31,606.67 L141.64,606.66 L142.97,606.66 L144.31,606.66 L145.64,606.66 L146.97,606.65 L148.3,606.65 L149.63,606.65 L150.96,606.64 L152.29,606.64 L153.63,606.64 L154.96,606.64 L156.29,606.63 L157.62,606.63 L158.95,606.63 L160.28,606.63 L161.62,606.62 L162.95,606.62 L164.28,606.62 L165.61,606.62 L166.94,606.61 L168.27,606.61 L169.61,606.61 L170.94,606.61 L172.27,606.6 L173.6,606.6 L175.08,606.26 L176.56,605.92 L178.04,605.58 L179.52,605.24 L181,604.9 L182.4,604.82 L183.8,604.74 L185.2,604.66 L186.6,604.58 L188,604.5 L189.4,604.02 L190.8,603.81 L192.2,603.02 L193.6,602.53 L195,601.41 L196.47,602.37 L197.93,601.7 L199.4,600.89 L200.87,601.59 L202.33,602.46 L203.8,600.39 L205.06,600.25 L206.31,600.96 L207.57,599.82 L208.83,599.48 L210.09,599.59 L211.34,598.77 L212.6,599.04 L213.84,598.33 L215.09,598.56 L216.33,598 L217.57,595.45 L218.81,595.88 L220.06,595.67 L221.3,595.24 L222.54,594.41 L223.79,593.48 L225.03,592.84 L226.27,591.65 L227.51,590.85 L228.76,591.23 L230,590.75 L231.06,589.98 L232.12,588.56 L233.18,586.91 L234.24,586.93 L235.3,585.98 L236.18,584.5 L237.07,583.74 L237.95,582.15 L238.83,581.53 L239.72,580.23 L240.6,578.52 L241.47,578.09 L242.35,577.07 L243.22,577.41 L244.1,575.41 L244.97,574.2 L245.85,572.96 L246.72,571.96 L247.6,571.2 L248.47,569.47 L249.35,567.91 L250.22,568.34 L251.1,566.21 L251.98,565.02 L252.87,564.1 L253.75,562.4 L254.63,560.97 L255.52,559.6 L256.4,558.9 L257.14,557.66 L257.89,557.24 L258.63,555.63 L259.37,555.15 L260.11,552.7 L260.86,552.6 L261.6,550.67 L262.18,548.41 L262.77,547.36 L263.35,546.91 L263.93,546.47 L264.52,543.96 L265.1,543.55 L265.88,541.72 L266.66,541.46 L267.44,538.72 L268.22,538.41 L269,538.1 L269.88,535.74 L270.77,534.58 L271.65,533 L272.53,532.16 L273.42,531.25 L274.3,531.01 L275.47,529.45 L276.63,529.23 L277.8,528.25 L278.97,528.47 L280.13,528.41 L281.3,527.4 L282.47,525.79 L283.63,526.17 L284.8,525.93 L286.1,525.65 L287.4,525.06 L288.7,526.97 L290,527.55 L291.75,526.93 L293.5,526.97 L294.82,526.4 L296.15,526.42 L297.48,526.43 L298.8,525.28 L300.06,525.22 L301.31,523.85 L302.57,523.64 L303.83,523.86 L305.09,523.35 L306.34,522.64 L307.6,522.65 L309.35,521.32 L311.1,520.08 L312.4,519.7 L313.7,518.31 L315,518.25 L316.3,516.97 L317.62,516.32 L318.95,515.59 L320.28,514.23 L321.6,513.65 L322.9,512.12 L324.2,512.5 L325.5,511.09 L326.8,510.78 L328.12,509.63 L329.45,510.56 L330.78,510.86 L332.1,510.46 L333.85,509.83 L335.6,509.62 L336.9,510.5 L338.2,512.27 L339.5,512.23 L340.8,514.14 L341.86,514.45 L342.92,515.47 L343.98,516.4 L345.04,517.22 L346.1,518.22 L347.16,519.2 L348.22,519.88 L349.28,521.52 L350.34,521.9 L351.4,523.6 L352.57,524.54 L353.73,525.42 L354.9,525.63 L355.77,527.61 L356.65,529.22 L357.52,529.81 L358.4,530.89 L359.7,531.01 L361,531.37 L362.3,530.01 L363.6,529.61 L365.35,529.82 L367.1,529.62 L368.27,528.65 L369.43,526.94 L370.6,526.69 L371.67,524.75 L372.73,524.63 L373.8,522.83 L374.87,521.87 L375.93,521.15 L377,520.18 L378.32,519.93 L379.65,519.13 L380.98,517.73 L382.3,517.92 L383.6,516.76 L384.9,516.11 L386.2,515.8 L387.5,516.23 L388.82,516.62 L390.15,515.68 L391.48,515.62 L392.8,516.79 L393.9,516.84 L395,518.68 L396.1,518.8 L397.2,519.79 L398.37,518.15 L399.53,517.55 L400.7,515.84 L401.92,515.05 L403.14,515.26 L404.36,513.55 L405.58,513.83 L406.8,512.29 L407.84,512.3 L408.88,511.16 L409.92,511.01 L410.96,509.08 L412,508.99 L413.32,508.02 L414.65,507.99 L415.98,507.27 L417.3,506.08 L418.18,504.41 L419.05,503.35 L419.93,502.27 L420.8,501.41 L421.86,500.26 L422.92,499.36 L423.98,499.28 L425.04,498.26 L426.1,496.92 L426.97,496.81 L427.83,494.64 L428.7,494.05 L429.57,492.39 L430.43,492.29 L431.3,491.22 L432.62,490.22 L433.95,490.75 L435.28,490.7 L436.6,489.8 L438.07,489.86 L439.53,490.08 L441,490.65 L441.86,490.87 L442.72,492.84 L443.58,493.96 L444.44,494.99 L445.3,496.41 L446.18,498.06 L447.06,498.33 L447.94,500.5 L448.82,500.98 L449.7,502.79 L450.28,504.23 L450.87,504.59 L451.45,506.86 L452.03,508.36 L452.62,508.7 L453.2,509.63 L454.08,510.8 L454.96,513.04 L455.84,512.73 L456.72,515.04 L457.6,515.01 L458.48,516.89 L459.36,517.06 L460.24,518.22 L461.12,520 L462,520.23 L463.47,520.71 L464.93,521.65 L466.4,521.5 L467.57,522.47 L468.73,523.34 L469.9,522.75 L470.55,521.73 L471.2,521.21 L471.85,519.77 L472.5,517.55 L474.25,517.76 L476,516.92 L476.63,515.95 L477.26,514.23 L477.89,512.86 L478.51,512.96 L479.14,510.76 L479.77,510.29 L480.4,507.97 L480.98,507.32 L481.56,505.66 L482.13,504.9 L482.71,503.38 L483.29,502.93 L483.87,501.01 L484.44,500.67 L485.02,499.17 L485.6,497.46 L486.15,496.48 L486.7,495.37 L487.25,494.65 L487.8,492.54 L488.35,491.04 L488.9,490.78 L489.45,489.35 L490,487.82 L490.67,485.87 L491.33,484.41 L492,483.22 L492.67,481.63 L493.33,480.28 L494,479.61 L494.58,478.3 L495.17,477.35 L495.75,475.91 L496.33,474.25 L496.92,474.03 L497.5,472.81 L498.38,471.63 L499.27,470.6 L500.15,469.77 L501.03,469.14 L501.92,467.96 L502.8,466.7 L504.1,465.38 L505.4,464.4 L506.7,463.66 L508,463.56 L509.35,462.14 L510.7,461.54 L511.77,462.62 L512.85,463.3 L513.92,465.55 L515,465.21 L515.88,465.08 L516.75,464.55 L517.62,462.63 L518.5,462.16 L519.56,460.71 L520.62,459.4 L521.68,458.22 L522.74,456.98 L523.8,456.88 L524.84,455.66 L525.88,454.69 L526.92,452.35 L527.96,452.11 L529,450.45 L530.8,450.45 L532.6,449.87 L533.34,448.41 L534.09,448.2 L534.83,445.72 L535.57,445.63 L536.31,444.65 L537.06,443.04 L537.8,442.03 L538.8,441.59 L539.8,439.53 L540.8,439.08 L541.8,438.24 L542.8,436.73 L543.8,436.2 L544.8,434.75 L545.86,433.88 L546.92,432.94 L547.98,431.97 L549.04,430.41 L550.1,429.78 L551.83,429.66 L553.57,429.21 L555.3,429.76 L556.2,430.74 L557.1,433.11 L558,433.96 L558.39,435.68 L558.78,436.76 L559.17,438.07 L559.56,439.08 L559.94,440.33 L560.33,442.8 L560.72,443.61 L561.11,444.97 L561.5,446.34 L561.89,448.01 L562.28,448.47 L562.67,449.64 L563.06,451.82 L563.44,452.58 L563.83,454.1 L564.22,455.63 L564.61,456.98 L565,458.21 L565.32,458.42 L565.64,460.24 L565.95,462.23 L566.27,463.56 L566.59,463.94 L566.91,465.34 L567.23,466.83 L567.55,467.98 L567.86,469.69 L568.18,471.67 L568.5,472.63 L568.73,473.82 L568.95,474.59 L569.17,476.3 L569.4,478.43 L569.62,479.29 L569.85,480.23 L570.08,481.55 L570.3,483.28 L570.53,484.51 L570.75,484.94 L570.98,486.97 L571.2,487.81 L571.61,489.27 L572.02,490.11 L572.43,491.54 L572.84,492.74 L573.25,494.03 L573.66,494.76 L574.07,496.26 L574.48,498.02 L574.89,498.54 L575.3,499.95 L575.52,501.99 L575.73,502.66 L575.95,504.02 L576.16,505.2 L576.38,507.32 L576.59,507.56 L576.81,509.62 L577.03,511.22 L577.24,511.59 L577.46,513.19 L577.67,514.99 L577.89,516.04 L578.11,516.98 L578.32,517.81 L578.54,519.66 L578.75,520.85 L578.97,522.62 L579.18,523.32 L579.4,524.77 L579.86,526.41 L580.33,527.94 L580.79,528.59 L581.25,529.94 L581.72,531.51 L582.18,533.29 L582.65,533.57 L583.11,535.96 L583.57,536.9 L584.04,537.72 L584.5,539.43 L584.72,540.32 L584.94,541.31 L585.17,543.63 L585.39,544.45 L585.61,546.01 L585.83,547.33 L586.06,549.25 L586.28,550.4 L586.5,550.74 L587.09,552.7 L587.67,553.69 L588.26,554.86 L588.84,556.56 L589.43,557.14 L590.01,558.39 L590.6,560.15 L591.11,560.79 L591.62,562.14 L592.14,563.44 L592.65,565.15 L593.16,566.21 L593.68,567.59 L594.19,568.39 L594.7,569.16 L595.52,571.27 L596.34,572.32 L597.16,573.84 L597.98,575.06 L598.8,575.14 L599.39,576.51 L599.97,577.4 L600.56,580.05 L601.14,579.79 L601.73,580.93 L602.31,583.44 L602.9,584.23 L603.9,584.24 L604.9,586.51 L605.9,587.6 L606.9,588.17 L607.72,588.33 L608.54,590.62 L609.36,591.1 L610.18,592.45 L611,594.3 L612.22,594.73 L613.44,595.64 L614.66,594.99 L615.88,596.17 L617.1,597.34 L618.34,596.73 L619.58,599.12 L620.82,598.11 L622.06,598.5 L623.3,599.03 L624.52,599.43 L625.74,601.16 L626.96,601.07 L628.18,601.5 L629.4,601.84 L630.77,601.35 L632.13,602.11 L633.5,603.48 L634.87,603.6 L636.23,603.96 L637.6,603.01 L638.93,603.24 L640.27,603.27 L641.6,604.5 L643,605.6 L643,606.7 L123,606.7 Z" fill="url(#gs)" stroke="none"/>
<path d="M123,606.7 L124.33,606.7 L125.66,606.69 L126.99,606.69 L128.33,606.69 L129.66,606.69 L130.99,606.68 L132.32,606.68 L133.65,606.68 L134.98,606.68 L136.32,606.67 L137.65,606.67 L138.98,606.67 L140.31,606.67 L141.64,606.66 L142.97,606.66 L144.31,606.66 L145.64,606.66 L146.97,606.65 L148.3,606.65 L149.63,606.65 L150.96,606.64 L152.29,606.64 L153.63,606.64 L154.96,606.64 L156.29,606.63 L157.62,606.63 L158.95,606.63 L160.28,606.63 L161.62,606.62 L162.95,606.62 L164.28,606.62 L165.61,606.62 L166.94,606.61 L168.27,606.61 L169.61,606.61 L170.94,606.61 L172.27,606.6 L173.6,606.6 L175.08,606.26 L176.56,605.92 L178.04,605.58 L179.52,605.24 L181,604.9 L182.4,604.82 L183.8,604.74 L185.2,604.66 L186.6,604.58 L188,604.5 L189.4,604.02 L190.8,603.81 L192.2,603.02 L193.6,602.53 L195,601.41 L196.47,602.37 L197.93,601.7 L199.4,600.89 L200.87,601.59 L202.33,602.46 L203.8,600.39 L205.06,600.25 L206.31,600.96 L207.57,599.82 L208.83,599.48 L210.09,599.59 L211.34,598.77 L212.6,599.04 L213.84,598.33 L215.09,598.56 L216.33,598 L217.57,595.45 L218.81,595.88 L220.06,595.67 L221.3,595.24 L222.54,594.41 L223.79,593.48 L225.03,592.84 L226.27,591.65 L227.51,590.85 L228.76,591.23 L230,590.75 L231.06,589.98 L232.12,588.56 L233.18,586.91 L234.24,586.93 L235.3,585.98 L236.18,584.5 L237.07,583.74 L237.95,582.15 L238.83,581.53 L239.72,580.23 L240.6,578.52 L241.47,578.09 L242.35,577.07 L243.22,577.41 L244.1,575.41 L244.97,574.2 L245.85,572.96 L246.72,571.96 L247.6,571.2 L248.47,569.47 L249.35,567.91 L250.22,568.34 L251.1,566.21 L251.98,565.02 L252.87,564.1 L253.75,562.4 L254.63,560.97 L255.52,559.6 L256.4,558.9 L257.14,557.66 L257.89,557.24 L258.63,555.63 L259.37,555.15 L260.11,552.7 L260.86,552.6 L261.6,550.67 L262.18,548.41 L262.77,547.36 L263.35,546.91 L263.93,546.47 L264.52,543.96 L265.1,543.55 L265.88,541.72 L266.66,541.46 L267.44,538.72 L268.22,538.41 L269,538.1 L269.88,535.74 L270.77,534.58 L271.65,533 L272.53,532.16 L273.42,531.25 L274.3,531.01 L275.47,529.45 L276.63,529.23 L277.8,528.25 L278.97,528.47 L280.13,528.41 L281.3,527.4 L282.47,525.79 L283.63,526.17 L284.8,525.93 L286.1,525.65 L287.4,525.06 L288.7,526.97 L290,527.55 L291.75,526.93 L293.5,526.97 L294.82,526.4 L296.15,526.42 L297.48,526.43 L298.8,525.28 L300.06,525.22 L301.31,523.85 L302.57,523.64 L303.83,523.86 L305.09,523.35 L306.34,522.64 L307.6,522.65 L309.35,521.32 L311.1,520.08 L312.4,519.7 L313.7,518.31 L315,518.25 L316.3,516.97 L317.62,516.32 L318.95,515.59 L320.28,514.23 L321.6,513.65 L322.9,512.12 L324.2,512.5 L325.5,511.09 L326.8,510.78 L328.12,509.63 L329.45,510.56 L330.78,510.86 L332.1,510.46 L333.85,509.83 L335.6,509.62 L336.9,510.5 L338.2,512.27 L339.5,512.23 L340.8,514.14 L341.86,514.45 L342.92,515.47 L343.98,516.4 L345.04,517.22 L346.1,518.22 L347.16,519.2 L348.22,519.88 L349.28,521.52 L350.34,521.9 L351.4,523.6 L352.57,524.54 L353.73,525.42 L354.9,525.63 L355.77,527.61 L356.65,529.22 L357.52,529.81 L358.4,530.89 L359.7,531.01 L361,531.37 L362.3,530.01 L363.6,529.61 L365.35,529.82 L367.1,529.62 L368.27,528.65 L369.43,526.94 L370.6,526.69 L371.67,524.75 L372.73,524.63 L373.8,522.83 L374.87,521.87 L375.93,521.15 L377,520.18 L378.32,519.93 L379.65,519.13 L380.98,517.73 L382.3,517.92 L383.6,516.76 L384.9,516.11 L386.2,515.8 L387.5,516.23 L388.82,516.62 L390.15,515.68 L391.48,515.62 L392.8,516.79 L393.9,516.84 L395,518.68 L396.1,518.8 L397.2,519.79 L398.37,518.15 L399.53,517.55 L400.7,515.84 L401.92,515.05 L403.14,515.26 L404.36,513.55 L405.58,513.83 L406.8,512.29 L407.84,512.3 L408.88,511.16 L409.92,511.01 L410.96,509.08 L412,508.99 L413.32,508.02 L414.65,507.99 L415.98,507.27 L417.3,506.08 L418.18,504.41 L419.05,503.35 L419.93,502.27 L420.8,501.41 L421.86,500.26 L422.92,499.36 L423.98,499.28 L425.04,498.26 L426.1,496.92 L426.97,496.81 L427.83,494.64 L428.7,494.05 L429.57,492.39 L430.43,492.29 L431.3,491.22 L432.62,490.22 L433.95,490.75 L435.28,490.7 L436.6,489.8 L438.07,489.86 L439.53,490.08 L441,490.65 L441.86,490.87 L442.72,492.84 L443.58,493.96 L444.44,494.99 L445.3,496.41 L446.18,498.06 L447.06,498.33 L447.94,500.5 L448.82,500.98 L449.7,502.79 L450.28,504.23 L450.87,504.59 L451.45,506.86 L452.03,508.36 L452.62,508.7 L453.2,509.63 L454.08,510.8 L454.96,513.04 L455.84,512.73 L456.72,515.04 L457.6,515.01 L458.48,516.89 L459.36,517.06 L460.24,518.22 L461.12,520 L462,520.23 L463.47,520.71 L464.93,521.65 L466.4,521.5 L467.57,522.47 L468.73,523.34 L469.9,522.75 L470.55,521.73 L471.2,521.21 L471.85,519.77 L472.5,517.55 L474.25,517.76 L476,516.92 L476.63,515.95 L477.26,514.23 L477.89,512.86 L478.51,512.96 L479.14,510.76 L479.77,510.29 L480.4,507.97 L480.98,507.32 L481.56,505.66 L482.13,504.9 L482.71,503.38 L483.29,502.93 L483.87,501.01 L484.44,500.67 L485.02,499.17 L485.6,497.46 L486.15,496.48 L486.7,495.37 L487.25,494.65 L487.8,492.54 L488.35,491.04 L488.9,490.78 L489.45,489.35 L490,487.82 L490.67,485.87 L491.33,484.41 L492,483.22 L492.67,481.63 L493.33,480.28 L494,479.61 L494.58,478.3 L495.17,477.35 L495.75,475.91 L496.33,474.25 L496.92,474.03 L497.5,472.81 L498.38,471.63 L499.27,470.6 L500.15,469.77 L501.03,469.14 L501.92,467.96 L502.8,466.7 L504.1,465.38 L505.4,464.4 L506.7,463.66 L508,463.56 L509.35,462.14 L510.7,461.54 L511.77,462.62 L512.85,463.3 L513.92,465.55 L515,465.21 L515.88,465.08 L516.75,464.55 L517.62,462.63 L518.5,462.16 L519.56,460.71 L520.62,459.4 L521.68,458.22 L522.74,456.98 L523.8,456.88 L524.84,455.66 L525.88,454.69 L526.92,452.35 L527.96,452.11 L529,450.45 L530.8,450.45 L532.6,449.87 L533.34,448.41 L534.09,448.2 L534.83,445.72 L535.57,445.63 L536.31,444.65 L537.06,443.04 L537.8,442.03 L538.8,441.59 L539.8,439.53 L540.8,439.08 L541.8,438.24 L542.8,436.73 L543.8,436.2 L544.8,434.75 L545.86,433.88 L546.92,432.94 L547.98,431.97 L549.04,430.41 L550.1,429.78 L551.83,429.66 L553.57,429.21 L555.3,429.76 L556.2,430.74 L557.1,433.11 L558,433.96 L558.39,435.68 L558.78,436.76 L559.17,438.07 L559.56,439.08 L559.94,440.33 L560.33,442.8 L560.72,443.61 L561.11,444.97 L561.5,446.34 L561.89,448.01 L562.28,448.47 L562.67,449.64 L563.06,451.82 L563.44,452.58 L563.83,454.1 L564.22,455.63 L564.61,456.98 L565,458.21 L565.32,458.42 L565.64,460.24 L565.95,462.23 L566.27,463.56 L566.59,463.94 L566.91,465.34 L567.23,466.83 L567.55,467.98 L567.86,469.69 L568.18,471.67 L568.5,472.63 L568.73,473.82 L568.95,474.59 L569.17,476.3 L569.4,478.43 L569.62,479.29 L569.85,480.23 L570.08,481.55 L570.3,483.28 L570.53,484.51 L570.75,484.94 L570.98,486.97 L571.2,487.81 L571.61,489.27 L572.02,490.11 L572.43,491.54 L572.84,492.74 L573.25,494.03 L573.66,494.76 L574.07,496.26 L574.48,498.02 L574.89,498.54 L575.3,499.95 L575.52,501.99 L575.73,502.66 L575.95,504.02 L576.16,505.2 L576.38,507.32 L576.59,507.56 L576.81,509.62 L577.03,511.22 L577.24,511.59 L577.46,513.19 L577.67,514.99 L577.89,516.04 L578.11,516.98 L578.32,517.81 L578.54,519.66 L578.75,520.85 L578.97,522.62 L579.18,523.32 L579.4,524.77 L579.86,526.41 L580.33,527.94 L580.79,528.59 L581.25,529.94 L581.72,531.51 L582.18,533.29 L582.65,533.57 L583.11,535.96 L583.57,536.9 L584.04,537.72 L584.5,539.43 L584.72,540.32 L584.94,541.31 L585.17,543.63 L585.39,544.45 L585.61,546.01 L585.83,547.33 L586.06,549.25 L586.28,550.4 L586.5,550.74 L587.09,552.7 L587.67,553.69 L588.26,554.86 L588.84,556.56 L589.43,557.14 L590.01,558.39 L590.6,560.15 L591.11,560.79 L591.62,562.14 L592.14,563.44 L592.65,565.15 L593.16,566.21 L593.68,567.59 L594.19,568.39 L594.7,569.16 L595.52,571.27 L596.34,572.32 L597.16,573.84 L597.98,575.06 L598.8,575.14 L599.39,576.51 L599.97,577.4 L600.56,580.05 L601.14,579.79 L601.73,580.93 L602.31,583.44 L602.9,584.23 L603.9,584.24 L604.9,586.51 L605.9,587.6 L606.9,588.17 L607.72,588.33 L608.54,590.62 L609.36,591.1 L610.18,592.45 L611,594.3 L612.22,594.73 L613.44,595.64 L614.66,594.99 L615.88,596.17 L617.1,597.34 L618.34,596.73 L619.58,599.12 L620.82,598.11 L622.06,598.5 L623.3,599.03 L624.52,599.43 L625.74,601.16 L626.96,601.07 L628.18,601.5 L629.4,601.84 L630.77,601.35 L632.13,602.11 L633.5,603.48 L634.87,603.6 L636.23,603.96 L637.6,603.01 L638.93,603.24 L640.27,603.27 L641.6,604.5 L643,605.6" fill="none" stroke="#000" stroke-width="2.6" stroke-linejoin="round"/>
<path d="M72,591.82 L75.47,591.24 L78.94,590.65 L82.4,590.04 L85.87,589.42 L89.34,588.79 L92.81,588.14 L96.28,587.48 L99.74,586.81 L103.21,586.13 L106.68,585.43 L110.15,584.73 L113.62,584 L117.08,583.27 L120.55,582.53 L124.02,581.77 L127.49,581 L130.96,580.22 L134.42,579.42 L137.89,578.62 L141.36,577.81 L144.83,576.98 L148.3,576.14 L151.76,575.29 L155.23,574.43 L158.7,573.56 L162.17,572.69 L165.64,571.8 L169.1,570.9 L172.57,569.99 L176.04,569.07 L179.51,568.14 L182.98,567.21 L186.44,566.26 L189.91,565.31 L193.38,564.35 L196.85,563.38 L200.32,562.4 L203.78,561.41 L207.25,560.42 L210.72,559.42 L214.19,558.42 L217.66,557.4 L221.12,556.38 L224.59,555.36 L228.06,554.33 L231.53,553.29 L235,552.25 L238.46,551.2 L241.93,550.15 L245.4,549.09 L248.87,548.03 L252.34,546.97 L255.8,545.9 L259.27,544.82 L262.74,543.75 L266.21,542.67 L269.68,541.59 L273.14,540.5 L276.61,539.41 L280.08,538.32 L283.55,537.23 L287.02,536.14 L290.48,535.04 L293.95,533.95 L297.42,532.85 L300.89,531.75 L304.36,530.66 L307.82,529.56 L311.29,528.46 L314.76,527.36 L318.23,526.26 L321.7,525.17 L325.16,524.07 L328.63,522.97 L332.1,521.88 L335.57,520.79 L339.04,519.69 L342.5,518.6 L345.97,517.52 L349.44,516.43 L352.91,515.35 L356.38,514.27 L359.84,513.19 L363.31,512.12 L366.78,511.04 L370.25,509.98 L373.72,508.91 L377.18,507.85 L380.65,506.79 L384.12,505.74 L387.59,504.69 L391.06,503.64 L394.52,502.6 L397.99,501.57 L401.46,500.54 L404.93,499.51 L408.4,498.49 L411.86,497.47 L415.33,496.46 L418.8,495.46 L422.27,494.46 L425.74,493.46 L429.2,492.47 L432.67,491.49 L436.14,490.52 L439.61,489.54 L443.08,488.58 L446.54,487.62 L450.01,486.67 L453.48,485.73 L456.95,484.79 L460.42,483.86 L463.88,482.93 L467.35,482.02 L470.82,481.11 L474.29,480.2 L477.76,479.31 L481.22,478.42 L484.69,477.54 L488.16,476.66 L491.63,475.8 L495.1,474.94 L498.56,474.09 L502.03,473.24 L505.5,472.41 L508.97,471.58 L512.44,470.76 L515.9,469.95 L519.37,469.14 L522.84,468.35 L526.31,467.56 L529.78,466.78 L533.24,466 L536.71,465.24 L540.18,464.48 L543.65,463.74 L547.12,463 L550.58,462.27 L554.05,461.54 L557.52,460.83 L560.99,460.12 L564.46,459.42 L567.92,458.73 L571.39,458.05 L574.86,457.38 L578.33,456.71 L581.8,456.06 L585.26,455.41 L588.73,454.77 L592.2,454.14 L595.67,453.52 L599.14,452.9 L602.6,452.29 L606.07,451.7 L609.54,451.11 L613.01,450.53 L616.48,449.95 L619.94,449.39 L623.41,448.83 L626.88,448.29 L630.35,447.75 L633.82,447.22 L637.28,446.69 L640.75,446.18 L644.22,445.67" fill="none" stroke="#8c8c8c" stroke-width="2.2" stroke-dasharray="8 5.5"/>
<path d="M72,606.7 L643,606.7 L643,351 L298,351" fill="none" stroke="#000" stroke-width="1.7"/>
<line x1="72.4" y1="351" x2="72.4" y2="607.7" stroke="#000" stroke-width="1.9"/>
<line x1="158.70" y1="606.7" x2="158.70" y2="602.7" stroke="#000" stroke-width="1.5"/>
<line x1="245.40" y1="606.7" x2="245.40" y2="602.7" stroke="#000" stroke-width="1.5"/>
<line x1="332.10" y1="606.7" x2="332.10" y2="602.7" stroke="#000" stroke-width="1.5"/>
<line x1="418.80" y1="606.7" x2="418.80" y2="602.7" stroke="#000" stroke-width="1.5"/>
<line x1="505.50" y1="606.7" x2="505.50" y2="602.7" stroke="#000" stroke-width="1.5"/>
<line x1="592.20" y1="606.7" x2="592.20" y2="602.7" stroke="#000" stroke-width="1.5"/>
<line x1="643" y1="583.30" x2="639" y2="583.30" stroke="#000" stroke-width="1.5"/>
<line x1="643" y1="560.10" x2="639" y2="560.10" stroke="#000" stroke-width="1.5"/>
<line x1="643" y1="536.90" x2="639" y2="536.90" stroke="#000" stroke-width="1.5"/>
<line x1="643" y1="513.70" x2="639" y2="513.70" stroke="#000" stroke-width="1.5"/>
<line x1="643" y1="490.50" x2="639" y2="490.50" stroke="#000" stroke-width="1.5"/>
<line x1="643" y1="467.30" x2="639" y2="467.30" stroke="#000" stroke-width="1.5"/>
<line x1="643" y1="444.10" x2="639" y2="444.10" stroke="#000" stroke-width="1.5"/>
<line x1="643" y1="420.90" x2="639" y2="420.90" stroke="#000" stroke-width="1.5"/>
<line x1="643" y1="397.70" x2="639" y2="397.70" stroke="#000" stroke-width="1.5"/>
<line x1="643" y1="374.50" x2="639" y2="374.50" stroke="#000" stroke-width="1.5"/>
<text x="647.6" y="610.0" font-size="14.8" text-anchor="start" >0</text>
<text x="647.6" y="534.8000000000001" font-size="14.8" text-anchor="start" >3</text>
<text x="647.6" y="456.4" font-size="14.8" text-anchor="start" >6</text>
<text x="647.6" y="378.2" font-size="14.8" text-anchor="start" >9</text>
<text x="62.7" y="622.5" font-size="14.8" text-anchor="middle" >350</text>
<text x="241.5" y="622.5" font-size="14.8" text-anchor="middle" >450</text>
<text x="418" y="622.5" font-size="14.8" text-anchor="middle" >550</text>
<text x="592" y="622.5" font-size="14.8" text-anchor="middle" >650</text>
<text x="358.2" y="643.5" font-size="14.8" text-anchor="middle" >Wavelength (nm)</text>
<g transform="translate(681,487) rotate(-90)"><text x="0" y="0" font-size="14.8" text-anchor="middle">Optical power density (μW nm<tspan font-size="9.6" dy="-4.8">-1</tspan><tspan dy="4.8">)</tspan></text></g>
<text x="517" y="369.9" font-size="14.8" text-anchor="middle">Color-mixed 3 <tspan font-style="italic">β</tspan>QLEDs</text>
<text x="517" y="387.6" font-size="14.8" text-anchor="middle" >CCT = 3483 K, CRI = 90.4</text>
<g transform="translate(423.6,478.9) rotate(-16)"><text x="0" y="0" font-size="15">BBR 3500K</text></g>
<text x="556.5" y="566.9" font-size="14.6" text-anchor="end">assuming 100% EPE: 353 lm W<tspan font-size="9.6" dy="-4.8">-1</tspan></text>
<text x="556.5" y="584.3" font-size="14.6" text-anchor="end">with certificated EPEs: 168 lm W<tspan font-size="9.6" dy="-4.8">-1</tspan></text>
<rect x="72.4" y="351.2" width="226.49999999999997" height="66.80000000000001" fill="#fff"/>
<rect x="72.4" y="359.1" width="223.4" height="43.299999999999955" fill="#e3e3e3"/>
<line x1="170.5" y1="351.2" x2="170.5" y2="418" stroke="#d4d4d4" stroke-width="1"/>
<line x1="269.5" y1="351.2" x2="269.5" y2="418" stroke="#d4d4d4" stroke-width="1"/>
<circle cx="154.90" cy="364.80" r="3.6" fill="#000"/>
<circle cx="164.83" cy="367.80" r="3.6" fill="#000"/>
<circle cx="174.76" cy="371.50" r="3.6" fill="#000"/>
<circle cx="184.69" cy="374.70" r="3.6" fill="#000"/>
<circle cx="194.62" cy="377.90" r="3.6" fill="#000"/>
<circle cx="204.55" cy="380.90" r="3.6" fill="#000"/>
<circle cx="214.48" cy="384.40" r="3.6" fill="#000"/>
<circle cx="224.41" cy="387.60" r="3.6" fill="#000"/>
<circle cx="234.34" cy="390.30" r="3.6" fill="#000"/>
<circle cx="244.27" cy="392.30" r="3.6" fill="#000"/>
<circle cx="254.20" cy="393.80" r="3.6" fill="#000"/>
<circle cx="264.13" cy="395.00" r="3.6" fill="#000"/>
<circle cx="274.06" cy="396.30" r="3.6" fill="#000"/>
<circle cx="283.99" cy="398.50" r="3.6" fill="#000"/>
<circle cx="293.92" cy="401.00" r="3.6" fill="#000"/>
<rect x="72.4" y="351.2" width="226.49999999999997" height="66.80000000000001" fill="none" stroke="#000" stroke-width="1.8"/>
<line x1="72.4" y1="364.3" x2="76.4" y2="364.3" stroke="#000" stroke-width="1.3"/>
<line x1="72.4" y1="377.7" x2="76.4" y2="377.7" stroke="#000" stroke-width="1.3"/>
<line x1="72.4" y1="390.9" x2="76.4" y2="390.9" stroke="#000" stroke-width="1.3"/>
<line x1="72.4" y1="404.4" x2="76.4" y2="404.4" stroke="#000" stroke-width="1.3"/>
<line x1="101.30" y1="351.2" x2="101.30" y2="354.2" stroke="#000" stroke-width="1.1"/>
<line x1="118.74" y1="351.2" x2="118.74" y2="354.2" stroke="#000" stroke-width="1.1"/>
<line x1="131.10" y1="351.2" x2="131.10" y2="354.2" stroke="#000" stroke-width="1.1"/>
<line x1="140.70" y1="351.2" x2="140.70" y2="354.2" stroke="#000" stroke-width="1.1"/>
<line x1="148.54" y1="351.2" x2="148.54" y2="354.2" stroke="#000" stroke-width="1.1"/>
<line x1="155.16" y1="351.2" x2="155.16" y2="354.2" stroke="#000" stroke-width="1.1"/>
<line x1="160.91" y1="351.2" x2="160.91" y2="354.2" stroke="#000" stroke-width="1.1"/>
<line x1="165.97" y1="351.2" x2="165.97" y2="354.2" stroke="#000" stroke-width="1.1"/>
<line x1="170.50" y1="351.2" x2="170.50" y2="356.2" stroke="#000" stroke-width="1.1"/>
<line x1="200.30" y1="351.2" x2="200.30" y2="354.2" stroke="#000" stroke-width="1.1"/>
<line x1="217.74" y1="351.2" x2="217.74" y2="354.2" stroke="#000" stroke-width="1.1"/>
<line x1="230.10" y1="351.2" x2="230.10" y2="354.2" stroke="#000" stroke-width="1.1"/>
<line x1="239.70" y1="351.2" x2="239.70" y2="354.2" stroke="#000" stroke-width="1.1"/>
<line x1="247.54" y1="351.2" x2="247.54" y2="354.2" stroke="#000" stroke-width="1.1"/>
<line x1="254.16" y1="351.2" x2="254.16" y2="354.2" stroke="#000" stroke-width="1.1"/>
<line x1="259.91" y1="351.2" x2="259.91" y2="354.2" stroke="#000" stroke-width="1.1"/>
<line x1="264.97" y1="351.2" x2="264.97" y2="354.2" stroke="#000" stroke-width="1.1"/>
<line x1="269.50" y1="351.2" x2="269.50" y2="356.2" stroke="#000" stroke-width="1.1"/>
<rect x="72.4" y="430.9" width="226.49999999999997" height="67.60000000000002" fill="#fff"/>
<rect x="72.4" y="450.6" width="223.4" height="17.299999999999955" fill="#e3e3e3"/>
<line x1="170.5" y1="430.9" x2="170.5" y2="498.5" stroke="#d4d4d4" stroke-width="1"/>
<line x1="269.5" y1="430.9" x2="269.5" y2="498.5" stroke="#d4d4d4" stroke-width="1"/>
<circle cx="154.90" cy="455.30" r="3.6" fill="#000"/>
<circle cx="164.83" cy="455.30" r="3.6" fill="#000"/>
<circle cx="174.76" cy="455.30" r="3.6" fill="#000"/>
<circle cx="184.69" cy="455.50" r="3.6" fill="#000"/>
<circle cx="194.62" cy="455.50" r="3.6" fill="#000"/>
<circle cx="204.55" cy="455.80" r="3.6" fill="#000"/>
<circle cx="214.48" cy="456.00" r="3.6" fill="#000"/>
<circle cx="224.41" cy="456.00" r="3.6" fill="#000"/>
<circle cx="234.34" cy="457.00" r="3.6" fill="#000"/>
<circle cx="244.27" cy="458.50" r="3.6" fill="#000"/>
<circle cx="254.20" cy="460.20" r="3.6" fill="#000"/>
<circle cx="264.13" cy="462.00" r="3.6" fill="#000"/>
<circle cx="274.06" cy="464.00" r="3.6" fill="#000"/>
<circle cx="283.99" cy="465.20" r="3.6" fill="#000"/>
<circle cx="293.92" cy="466.40" r="3.6" fill="#000"/>
<rect x="72.4" y="430.9" width="226.49999999999997" height="67.60000000000002" fill="none" stroke="#000" stroke-width="1.8"/>
<line x1="72.4" y1="444.5" x2="76.4" y2="444.5" stroke="#000" stroke-width="1.3"/>
<line x1="72.4" y1="458.1" x2="76.4" y2="458.1" stroke="#000" stroke-width="1.3"/>
<line x1="72.4" y1="471.7" x2="76.4" y2="471.7" stroke="#000" stroke-width="1.3"/>
<line x1="72.4" y1="485.2" x2="76.4" y2="485.2" stroke="#000" stroke-width="1.3"/>
<line x1="101.30" y1="498.5" x2="101.30" y2="495.5" stroke="#000" stroke-width="1.1"/>
<line x1="118.74" y1="498.5" x2="118.74" y2="495.5" stroke="#000" stroke-width="1.1"/>
<line x1="131.10" y1="498.5" x2="131.10" y2="495.5" stroke="#000" stroke-width="1.1"/>
<line x1="140.70" y1="498.5" x2="140.70" y2="495.5" stroke="#000" stroke-width="1.1"/>
<line x1="148.54" y1="498.5" x2="148.54" y2="495.5" stroke="#000" stroke-width="1.1"/>
<line x1="155.16" y1="498.5" x2="155.16" y2="495.5" stroke="#000" stroke-width="1.1"/>
<line x1="160.91" y1="498.5" x2="160.91" y2="495.5" stroke="#000" stroke-width="1.1"/>
<line x1="165.97" y1="498.5" x2="165.97" y2="495.5" stroke="#000" stroke-width="1.1"/>
<line x1="170.50" y1="498.5" x2="170.50" y2="493.5" stroke="#000" stroke-width="1.1"/>
<line x1="200.30" y1="498.5" x2="200.30" y2="495.5" stroke="#000" stroke-width="1.1"/>
<line x1="217.74" y1="498.5" x2="217.74" y2="495.5" stroke="#000" stroke-width="1.1"/>
<line x1="230.10" y1="498.5" x2="230.10" y2="495.5" stroke="#000" stroke-width="1.1"/>
<line x1="239.70" y1="498.5" x2="239.70" y2="495.5" stroke="#000" stroke-width="1.1"/>
<line x1="247.54" y1="498.5" x2="247.54" y2="495.5" stroke="#000" stroke-width="1.1"/>
<line x1="254.16" y1="498.5" x2="254.16" y2="495.5" stroke="#000" stroke-width="1.1"/>
<line x1="259.91" y1="498.5" x2="259.91" y2="495.5" stroke="#000" stroke-width="1.1"/>
<line x1="264.97" y1="498.5" x2="264.97" y2="495.5" stroke="#000" stroke-width="1.1"/>
<line x1="269.50" y1="498.5" x2="269.50" y2="493.5" stroke="#000" stroke-width="1.1"/>
<text x="62" y="356.8" font-size="14.8" text-anchor="end" >0.49</text>
<text x="62" y="388.2" font-size="14.8" text-anchor="end" >0.47</text>
<text x="62" y="420.59999999999997" font-size="14.8" text-anchor="end" >0.45</text>
<text x="62" y="437.59999999999997" font-size="14.8" text-anchor="end" >0.47</text>
<text x="62" y="470.2" font-size="14.8" text-anchor="end" >0.45</text>
<text x="62" y="503.0" font-size="14.8" text-anchor="end" >0.43</text>
<text x="73.5" y="392.6" font-size="13.8">Δ &lt; 0.03</text>
<text x="78.6" y="474.2" font-size="13.8">Δ &lt; 0.01</text>
<g transform="translate(21,382) rotate(-90)"><text x="0" y="0" font-size="14.8" text-anchor="middle">CIE <tspan font-style="italic">x</tspan></text></g>
<g transform="translate(23.5,466) rotate(-90)"><text x="0" y="0" font-size="14.8" text-anchor="middle">CIE <tspan font-style="italic">y</tspan></text></g>
<text x="61" y="346.5" font-size="14.8">10<tspan font-size="9.6" dy="-4.8">2</tspan></text>
<text x="159.5" y="346.5" font-size="14.8">10<tspan font-size="9.6" dy="-4.8">3</tspan></text>
<text x="261" y="346.5" font-size="14.8">10<tspan font-size="9.6" dy="-4.8">4</tspan></text>
<text x="121.9" y="325.3" font-size="14.8">Luminance (cd m<tspan font-size="9.6" dy="-4.8">-2</tspan><tspan dy="4.8">)</tspan></text>
</svg>
</body></html>
